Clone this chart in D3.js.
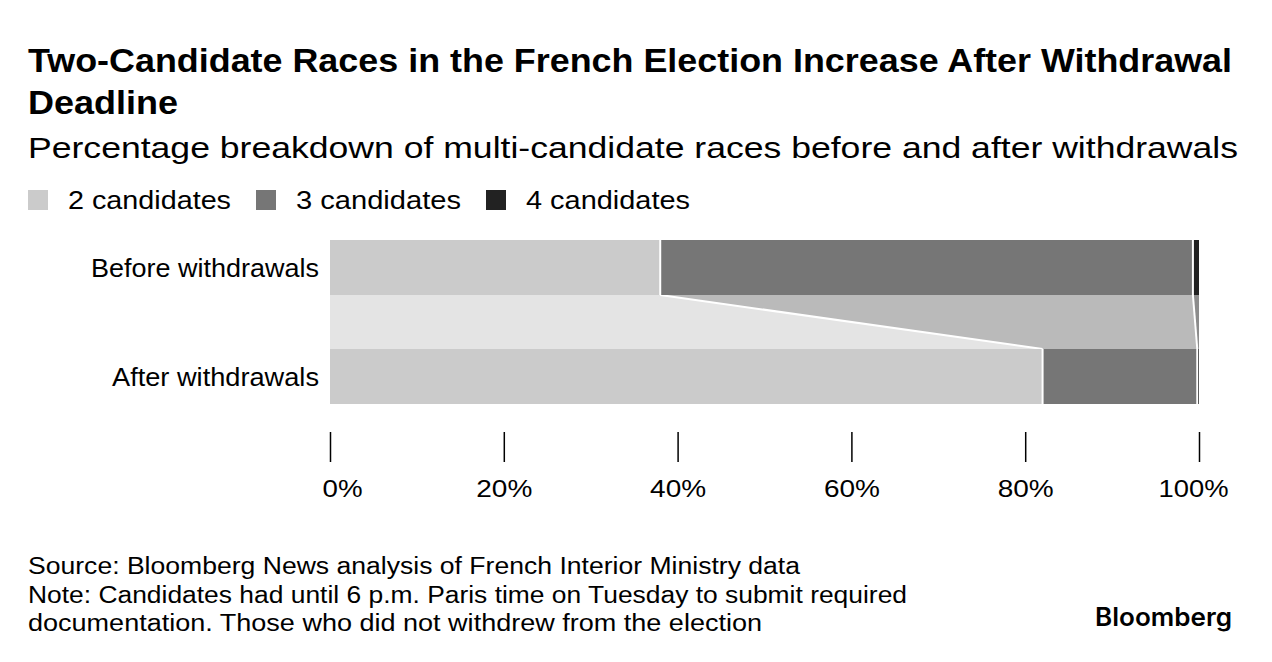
<!DOCTYPE html>
<html>
<head>
<meta charset="utf-8">
<script src="https://cdn.jsdelivr.net/npm/d3@7"></script>
<style>
  body { margin: 0; background: #fff; }
  svg text { font-family: "Liberation Sans", Arial, sans-serif; fill: #000; }
</style>
</head>
<body>
<svg id="chart" width="1272" height="662"></svg>
<script>
// chart data
var rows = ['Before withdrawals', 'After withdrawals'];
var series = ['2 candidates', '3 candidates', '4 candidates'];
var before = [38.0, 61.3, 0.7];
var after = [82.0, 17.8, 0.2];
var ticks = [0, 20, 40, 60, 80, 100];

var colors = ['#cbcbcb', '#767676', '#222222'];
var bandColors = ['#e4e4e4', '#bababa', '#8c8c8c'];

var svg = d3.select('#chart');

// text helper: stretch to the measured width of the original lettering
function txt(x, y, s, size, w, bold, anchor) {
  var t = svg.append('text').attr('x', x).attr('y', y)
    .style('font-size', size + 'px')
    .text(s);
  if (bold) t.style('font-weight', 'bold');
  if (anchor) t.attr('text-anchor', anchor);
  if (w) t.attr('textLength', w).attr('lengthAdjust', 'spacingAndGlyphs');
  return t;
}

// titles
txt(28, 72, 'Two-Candidate Races in the French Election Increase After Withdrawal', 33, 1204, true);
txt(28, 114, 'Deadline', 33, 150, true);
txt(28, 158, 'Percentage breakdown of multi-candidate races before and after withdrawals', 29, 1210);

// legend
var legX = [28, 256, 486];
var legW = [163, 165, 164];
series.forEach(function(s, i) {
  svg.append('rect').attr('x', legX[i]).attr('y', 190)
    .attr('width', 20).attr('height', 20).attr('fill', colors[i]);
  txt(legX[i] + 40, 209, s, 25, legW[i]);
});

var x = d3.scaleLinear().domain([0, 100]).range([330, 1199]);
var barH = 55;
var yTop = {'Before withdrawals': 240, 'After withdrawals': 349};
var rowW = {'Before withdrawals': 228, 'After withdrawals': 207};

function stackIt(vals) {
  var acc = 0;
  return vals.map(function(v) { var s = acc; acc += v; return [s, acc]; });
}
var sb = stackIt(before), sa = stackIt(after);

// connecting band
var bandTop = 295, bandBot = 349;
sb.forEach(function(d, i) {
  var pts = [[x(sb[i][0]), bandTop], [x(sb[i][1]), bandTop],
             [x(sa[i][1]), bandBot], [x(sa[i][0]), bandBot]];
  svg.append('path')
    .attr('d', d3.line()(pts) + 'Z')
    .attr('fill', bandColors[i]);
});
sb.slice(0, 2).forEach(function(d, i) {
  svg.append('line')
    .attr('x1', x(sb[i][1])).attr('y1', bandTop)
    .attr('x2', x(sa[i][1])).attr('y2', bandBot)
    .attr('stroke', '#fff').attr('stroke-width', 2);
});

// bars
[[rows[0], sb], [rows[1], sa]].forEach(function(r) {
  r[1].forEach(function(d, i) {
    svg.append('rect')
      .attr('x', x(d[0])).attr('y', yTop[r[0]])
      .attr('width', Math.max(0, x(d[1]) - x(d[0])))
      .attr('height', barH)
      .attr('fill', colors[i]);
  });
  r[1].slice(0, 2).forEach(function(d) {
    svg.append('line')
      .attr('x1', x(d[1])).attr('x2', x(d[1]))
      .attr('y1', yTop[r[0]]).attr('y2', yTop[r[0]] + barH)
      .attr('stroke', '#fff').attr('stroke-width', 2);
  });
  txt(319, yTop[r[0]] + 37, r[0], 25, rowW[r[0]], false, 'end');
});

// x axis
var ax = svg.append('g').attr('transform', 'translate(0,432)')
  .call(d3.axisBottom(x).tickValues(ticks).tickSize(30)
    .tickFormat(function(d) { return d + '%'; }));
ax.select('.domain').remove();
ax.selectAll('.tick line').attr('stroke', '#000').attr('stroke-width', 1.5);
ax.selectAll('.tick text')
  .attr('y', 65).attr('dy', 0)
  .attr('fill', '#000')
  .style('font-size', '24px')
  .style('font-family', '"Liberation Sans", Arial, sans-serif')
  .attr('textLength', function(d) { return d === 100 ? 70 : d === 0 ? 40 : 56; })
  .attr('lengthAdjust', 'spacingAndGlyphs')
  .attr('x', function(d) { return d === 0 ? 12 : d === 100 ? -6 : 0; });

// footer
var foot = ['Source: Bloomberg News analysis of French Interior Ministry data',
  'Note: Candidates had until 6 p.m. Paris time on Tuesday to submit required',
  'documentation. Those who did not withdrew from the election'];
var footW = [772, 879, 734];
foot.forEach(function(t, i) {
  txt(28, 574 + i * 28.5, t, 23, footW[i]);
});
txt(1232, 626, 'Bloomberg', 25, 137, true, 'end')
  .style('font-family', 'Inter, "Liberation Sans", sans-serif')
  .style('font-weight', '600');
</script>
</body>
</html>
